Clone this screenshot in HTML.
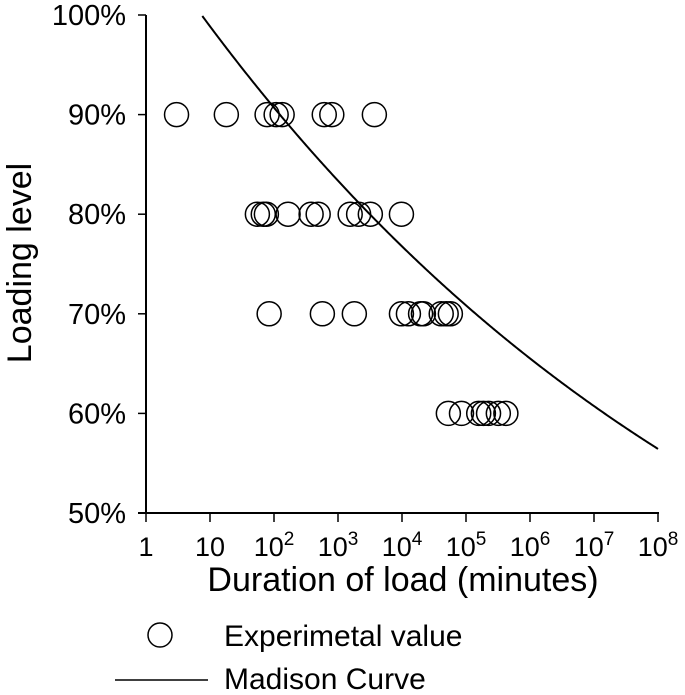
<!DOCTYPE html>
<html><head><meta charset="utf-8"><style>
html,body{margin:0;padding:0;background:#fff;}
svg{display:block;font-family:"Liberation Sans",Arial,sans-serif;}
</style></head><body>
<svg id="chart" width="685" height="695" viewBox="0 0 685 695">
<g id="axes"></g>
<g id="curve"></g>
<g id="points"></g>
<text x="0" y="0" transform="translate(31,263) rotate(-90)" text-anchor="middle" font-size="34">Loading level</text>
<text x="403" y="591" text-anchor="middle" font-size="34">Duration of load (minutes)</text>
<g>
<circle cx="160" cy="635" r="12" fill="none" stroke="#000" stroke-width="1.5"/>
<text x="224" y="646" font-size="30">Experimetal value</text>
<line x1="115" y1="680" x2="208" y2="680" stroke="#000" stroke-width="1.5"/>
<text x="224" y="689" font-size="30">Madison Curve</text>
</g>
</svg>
<script>
const xTickExps = [0,1,2,3,4,5,6,7,8];
const yTicks = [50,60,70,80,90,100];
const durations90 = [3,18,78,108,134,610,800,3700];
const durations80 = [55,68,76,166,380,490,1550,2100,3200,9800];
const durations70 = [84,570,1800,9800,12600,19500,21600,41000,49000,57000];
const durations60 = [53000,85000,158000,187000,225000,320000,420000];
const levels = [90,80,70,60];

const NS='http://www.w3.org/2000/svg';
const X0=146, DEC=64, Y0=513, YPER=9.96;
function xs(t){return X0+Math.log10(t)*DEC;}
function ys(p){return Y0-(p-50)*YPER;}
function mk(tag,attrs,parent){const e=document.createElementNS(NS,tag);for(const k in attrs)e.setAttribute(k,attrs[k]);parent.appendChild(e);return e;}

const axes=document.getElementById('axes');
let l=mk('line',{x1:X0,y1:15,x2:X0,y2:Y0,stroke:'#000','stroke-width':2},axes);


l=mk('line',{x1:138,y1:Y0,x2:659,y2:Y0,stroke:'#000','stroke-width':2},axes);


xTickExps.forEach(e=>{
  const x=xs(Math.pow(10,e));
  const tk=mk('line',{x1:x,y1:Y0,x2:x,y2:Y0+9,stroke:'#000','stroke-width':1.5},axes);
  
  
  const t=mk('text',{x:x,y:556,'text-anchor':'middle','font-size':27},axes);
  
  
  if(e===0)t.textContent='1';
  else if(e===1)t.textContent='10';
  else{t.textContent='10';const s=mk('tspan',{dy:-11,'font-size':19},t);s.textContent=String(e);}
});
yTicks.forEach(p=>{
  const y=ys(p);
  const tk=mk('line',{x1:138,y1:y,x2:X0,y2:y,stroke:'#000','stroke-width':1.5},axes);
  
  
  const t=mk('text',{x:126,y:y+10,'text-anchor':'end','font-size':29},axes);
  
  
  t.textContent=p+'%';
});

// Madison curve model: P = 18.3 + 108.4 * (t_seconds)^-0.0464
const curveG=document.getElementById('curve');
let d='';
for(let lg=0;lg<=8.0001;lg+=0.02){
  const t=Math.pow(10,lg);
  const p=18.3+108.4*Math.pow(t*60,-0.0464);
  if(p>100)continue;
  d+=(d?'L':'M')+xs(t).toFixed(2)+','+ys(p).toFixed(2);
}
const path=mk('path',{d:d,fill:'none',stroke:'#000','stroke-width':2},curveG);



const ptsG=document.getElementById('points');
[durations90,durations80,durations70,durations60].forEach((arr,i)=>{
  arr.forEach(t=>{
    const c=mk('circle',{cx:xs(t),cy:ys(levels[i]),r:12,fill:'none',stroke:'#000','stroke-width':1.5},ptsG);
    
    
  });
});
</script>
</body></html>
